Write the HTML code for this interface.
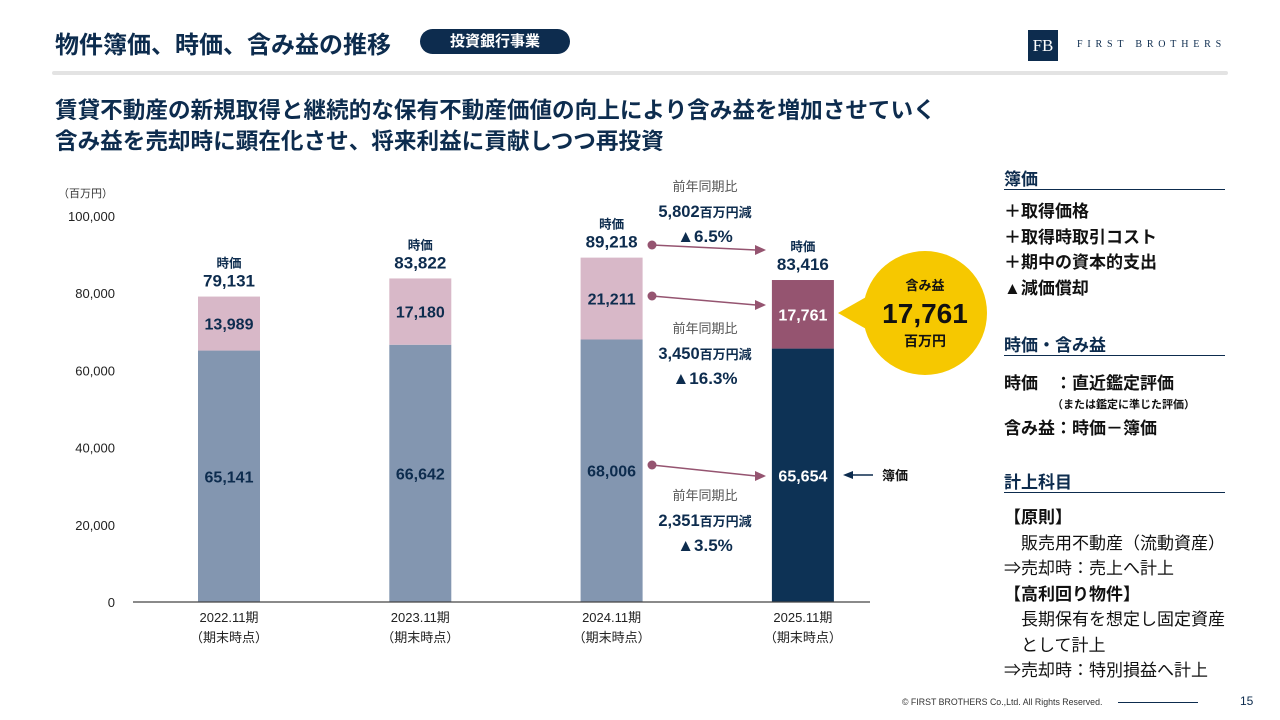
<!DOCTYPE html>
<html><head><meta charset="utf-8">
<style>
body{margin:0;width:1280px;height:720px;background:#fff;font-family:"Liberation Sans","Noto Sans CJK JP",sans-serif;color:#0d2c4e;position:relative;overflow:hidden}
.a{position:absolute;white-space:nowrap}
.h{font-weight:bold;font-size:17px;color:#0d2c4e}
.rl{position:absolute;left:1004px;width:221px;height:1px;background:#0d2c4e}
.p{font-size:17px;font-weight:bold;color:#111}
.q{font-size:17px;color:#111}
</style></head><body>
<div class="a" style="left:55px;top:25px;font-size:24px;font-weight:bold">物件簿価、時価、含み益の推移</div>
<div class="a" style="left:420px;top:29px;width:150px;height:25px;border-radius:13px;background:#0d2c4e;color:#fff;font-size:15px;font-weight:bold;text-align:center;line-height:25px">投資銀行事業</div>
<div class="a" style="left:1028px;top:30px;width:30px;height:31px;background:#0d2c4e;color:#fff;font-family:'Liberation Serif',serif;font-size:17px;text-align:center;line-height:31px">FB</div>
<div class="a" style="left:1077px;top:39px;font-family:'Liberation Serif',serif;font-size:10px;letter-spacing:4.8px;color:#0d2c4e">FIRST BROTHERS</div>
<div class="a" style="left:52px;top:71px;width:1176px;height:4px;background:#e3e3e3;border-radius:2px"></div>
<div class="a" style="left:55px;top:92px;font-size:22.6px;font-weight:bold">賃貸不動産の新規取得と継続的な保有不動産価値の向上により含み益を増加させていく</div>
<div class="a" style="left:55px;top:123px;font-size:22.6px;font-weight:bold">含み益を売却時に顕在化させ、将来利益に貢献しつつ再投資</div>

<svg class="a" style="left:0;top:0" width="1000" height="720" id="chart"></svg>

<div class="a h" style="left:1004px;top:165px">簿価</div>
<div class="rl" style="top:189px"></div>
<div class="a p" style="left:1004px;top:199px;line-height:25.5px">＋取得価格<br>＋取得時取引コスト<br>＋期中の資本的支出<br>▲減価償却</div>
<div class="a h" style="left:1004px;top:331px">時価・含み益</div>
<div class="rl" style="top:355px"></div>
<div class="a p" style="left:1004px;top:369px">時価　：直近鑑定評価</div>
<div class="a" style="left:1052px;top:396px;font-size:11px;font-weight:bold;color:#111">（または鑑定に準じた評価）</div>
<div class="a p" style="left:1004px;top:414px">含み益：時価－簿価</div>
<div class="a h" style="left:1004px;top:468px">計上科目</div>
<div class="rl" style="top:492px"></div>
<div class="a q" style="left:1004px;top:505px;line-height:25.5px"><b>【原則】</b><br>　販売用不動産（流動資産）<br>⇒売却時：売上へ計上<br><b>【高利回り物件】</b><br>　長期保有を想定し固定資産<br>　として計上<br>⇒売却時：特別損益へ計上</div>
<div class="a" style="left:902px;top:697px;font-size:8.8px;color:#333">© FIRST BROTHERS Co.,Ltd. All Rights Reserved.</div>
<div class="a" style="left:1118px;top:702px;width:80px;height:1px;background:#0d2c4e"></div>
<div class="a" style="left:1240px;top:694px;font-size:12px;color:#0d2c4e">15</div>

<script>
const categories=["2022.11期","2023.11期","2024.11期","2025.11期"];
const bookValues=[65141,66642,68006,65654];
const gainValues=[13989,17180,21211,17761];
const marketValues=[79131,83822,89218,83416];
const yTicks=[0,20000,40000,60000,80000,100000];
const svg=document.getElementById('chart');
const NS='http://www.w3.org/2000/svg';
const y0=602,y1=216,xs0=229,xstep=191.3,bw=62;
const Y=v=>y0-(v/100000)*(y0-y1);
const X=i=>xs0+i*xstep;
function el(t,a,txt){const e=document.createElementNS(NS,t);for(const k in a)e.setAttribute(k,a[k]);if(txt!=null)e.textContent=txt;svg.appendChild(e);return e;}
const fmt=v=>v.toLocaleString('en-US');
let t=el('text',{x:58,y:197,'font-size':11,fill:'#333'},'（百万円）');

yTicks.forEach(v=>{const e=el('text',{x:115,y:Y(v)+5,'font-size':13,fill:'#222','text-anchor':'end'},fmt(v));
});
categories.forEach((c,i)=>{
 const cx=X(i),last=i===3;
 const b=el('rect',{x:cx-bw/2,y:Y(bookValues[i]),width:bw,height:y0-Y(bookValues[i]),fill:last?'#0d3255':'#8396b0'});
 
 const top=bookValues[i]+gainValues[i];
 const g=el('rect',{x:cx-bw/2,y:Y(top),width:bw,height:Y(bookValues[i])-Y(top),fill:last?'#955470':'#d8b8c8'});
 
 const col=last?'#fff':'#0d2c4e';
 let l=el('text',{x:cx,y:Y(bookValues[i]/2)+6,'font-size':16,'font-weight':'bold',fill:col,'text-anchor':'middle'},fmt(bookValues[i]));
 
 l=el('text',{x:cx,y:Y(bookValues[i]+gainValues[i]/2)+6,'font-size':16,'font-weight':'bold',fill:col,'text-anchor':'middle'},fmt(gainValues[i]));
 
 const my=Y(marketValues[i]);
 l=el('text',{x:cx,y:my-29,'font-size':12.5,'font-weight':'bold',fill:'#0d2c4e','text-anchor':'middle'},'時価');
 
 l=el('text',{x:cx,y:my-10,'font-size':17,'font-weight':'bold',fill:'#0d2c4e','text-anchor':'middle'},fmt(marketValues[i]));
 
 l=el('text',{x:cx,y:622,'font-size':13,fill:'#222','text-anchor':'middle'},c);
 
 l=el('text',{x:cx,y:642,'font-size':13,fill:'#222','text-anchor':'middle'},'（期末時点）');
 
});
let ax=el('line',{x1:133,x2:870,y1:y0,y2:y0,stroke:'#444','stroke-width':1.2});

const arrows=[[245,250],[296,305],[465,476]];
arrows.forEach(a=>{
 const x1=652,x2=766;
 let c=el('circle',{cx:x1,cy:a[0],r:4.5,fill:'#955470'});
 
 let ln=el('line',{x1:x1,y1:a[0],x2:x2-10,y2:a[1],stroke:'#955470','stroke-width':1.6});
 
 let h=el('polygon',{points:`${x2},${a[1]} ${x2-11},${a[1]-5} ${x2-11},${a[1]+5}`,fill:'#955470'});
 
});
const changes=[["5,802","▲6.5%",191],["3,450","▲16.3%",333],["2,351","▲3.5%",500]];
changes.forEach(c=>{
 let e=el('text',{x:705,y:c[2],'font-size':13,fill:'#555','text-anchor':'middle'},'前年同期比');
 
 e=el('text',{x:705,y:c[2]+26,'font-size':16.5,'font-weight':'bold',fill:'#0d2c4e','text-anchor':'middle'});
 
 e.innerHTML=c[0]+'<tspan font-size="13">百万円減</tspan>';
 e=el('text',{x:705,y:c[2]+51,'font-size':17,'font-weight':'bold',fill:'#0d2c4e','text-anchor':'middle'},c[1]);
 
});
let bb=el('path',{d:'M875,292 L838,313 L875,334 Z',fill:'#f6c800'});

bb=el('circle',{cx:925,cy:313,r:62,fill:'#f6c800'});

let ct=el('text',{x:925,y:290,'font-size':13,'font-weight':'bold',fill:'#111','text-anchor':'middle'},'含み益');

ct=el('text',{x:925,y:323,'font-size':28,'font-weight':'bold',fill:'#111','text-anchor':'middle'},fmt(gainValues[3]));

ct=el('text',{x:925,y:346,'font-size':14,'font-weight':'bold',fill:'#111','text-anchor':'middle'},'百万円');

let ba=el('line',{x1:852,y1:475,x2:873,y2:475,stroke:'#0d2c4e','stroke-width':1.5});

ba=el('polygon',{points:'843,475 853,471 853,479',fill:'#0d2c4e'});

ba=el('text',{x:882,y:480,'font-size':13,'font-weight':'bold',fill:'#111'},'簿価');

</script>
</body></html>
